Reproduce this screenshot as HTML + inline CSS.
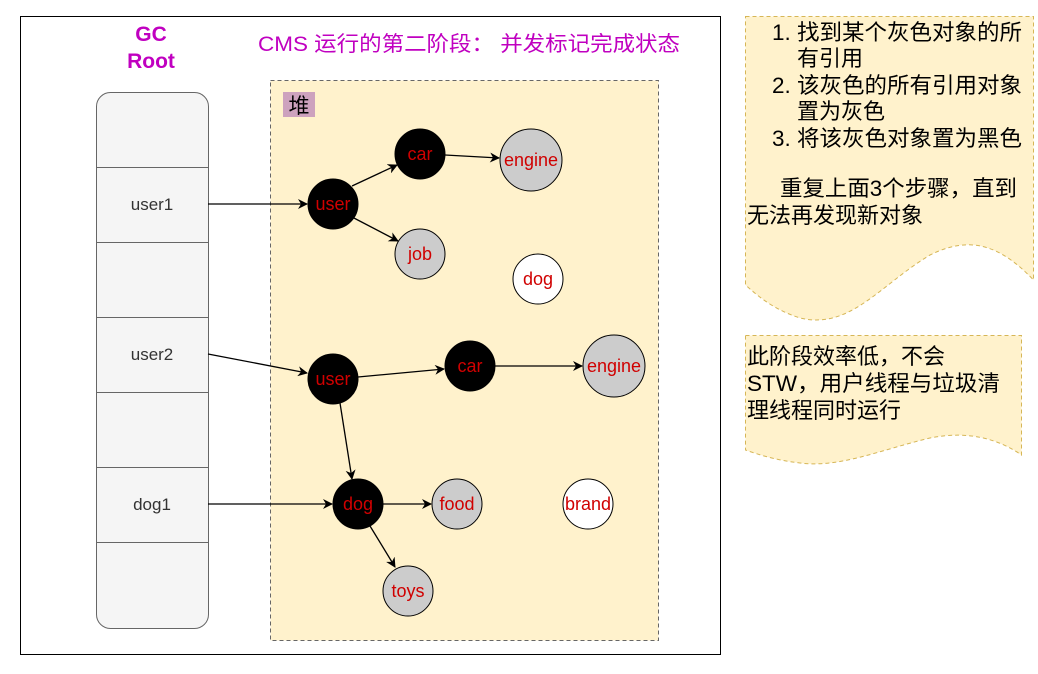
<!DOCTYPE html>
<html><head><meta charset="utf-8"><style>
body{margin:0;background:#fff;width:1038px;height:669px;overflow:hidden}
text{font-family:"Liberation Sans","Noto Sans CJK SC",sans-serif}
</style></head><body>
<svg width="1038" height="669" xmlns="http://www.w3.org/2000/svg">
<defs><marker id="a" markerWidth="10" markerHeight="10" refX="9" refY="5" orient="auto" markerUnits="userSpaceOnUse"><path d="M0,0 L10,5 L0,10 L3,5 z" fill="#000"/></marker></defs>
<rect x="20.5" y="16.5" width="700" height="638" fill="#fff" stroke="#000"/>
<text x="151" y="41" font-size="21" font-weight="bold" fill="#c000c0" text-anchor="middle">GC</text>
<text x="151" y="68" font-size="21" font-weight="bold" fill="#c000c0" text-anchor="middle">Root</text>
<text x="258" y="51" font-size="21" fill="#c000c0" textLength="422" lengthAdjust="spacingAndGlyphs">CMS 运行的第二阶段： 并发标记完成状态</text>
<rect x="96.5" y="92.5" width="112" height="536" rx="14" fill="#f5f5f5" stroke="#666"/>
<g stroke="#666"><line x1="96" y1="167.5" x2="208" y2="167.5"/><line x1="96" y1="242.5" x2="208" y2="242.5"/><line x1="96" y1="317.5" x2="208" y2="317.5"/><line x1="96" y1="392.5" x2="208" y2="392.5"/><line x1="96" y1="467.5" x2="208" y2="467.5"/><line x1="96" y1="542.5" x2="208" y2="542.5"/></g>
<g font-size="17" fill="#333" text-anchor="middle"><text x="152" y="210">user1</text><text x="152" y="360">user2</text><text x="152" y="510">dog1</text></g>
<rect x="270.5" y="80.5" width="388" height="560" fill="#fff2cc" stroke="#666" stroke-dasharray="4,3"/>
<rect x="283" y="92" width="32" height="25" fill="#cda2be"/>
<text x="299" y="113" font-size="21" text-anchor="middle" fill="#000">堆</text>
<g stroke="#000" stroke-width="1.3" marker-end="url(#a)">
<line x1="208" y1="204" x2="307" y2="204"/>
<line x1="208" y1="354" x2="307" y2="373"/>
<line x1="208" y1="504" x2="332" y2="504"/>
<line x1="352" y1="186" x2="397" y2="165"/>
<line x1="352" y1="217" x2="398" y2="241"/>
<line x1="445" y1="155" x2="499" y2="158"/>
<line x1="358" y1="377" x2="444" y2="369"/>
<line x1="495" y1="366" x2="582" y2="366"/>
<line x1="340" y1="403" x2="352" y2="479"/>
<line x1="383" y1="504" x2="431" y2="504"/>
<line x1="370" y1="526" x2="395" y2="567"/>
</g>
<g stroke="#000" stroke-width="1">
<circle cx="333" cy="204" r="25" fill="#000"/>
<circle cx="420" cy="154" r="25" fill="#000"/>
<circle cx="531" cy="160" r="31" fill="#ccc"/>
<circle cx="420" cy="254" r="25" fill="#ccc"/>
<circle cx="538" cy="279" r="25" fill="#fff"/>
<circle cx="333" cy="379" r="25" fill="#000"/>
<circle cx="470" cy="366" r="25" fill="#000"/>
<circle cx="614" cy="366" r="31" fill="#ccc"/>
<circle cx="358" cy="504" r="25" fill="#000"/>
<circle cx="457" cy="504" r="25" fill="#ccc"/>
<circle cx="588" cy="504" r="25" fill="#fff"/>
<circle cx="408" cy="591" r="25" fill="#ccc"/>
</g>
<g font-size="18" fill="#d00000" text-anchor="middle">
<text x="333" y="210">user</text><text x="420" y="160">car</text><text x="531" y="166">engine</text>
<text x="420" y="260">job</text><text x="538" y="285">dog</text>
<text x="333" y="385">user</text><text x="470" y="372">car</text><text x="614" y="372">engine</text>
<text x="358" y="510">dog</text><text x="457" y="510">food</text><text x="588" y="510">brand</text><text x="408" y="597">toys</text>
</g>
<path d="M745.5,16.5 H1033.5 V280 C1000,245 970,235 930,255 C880,285 850,330 800,318 C775,310 760,298 745.5,285 Z" fill="#fff2cc" stroke="#d6b656" stroke-dasharray="4,3"/>
<g font-size="22" fill="#000">
<text x="772" y="40" textLength="250" lengthAdjust="spacingAndGlyphs">1. 找到某个灰色对象的所</text>
<text x="797" y="66">有引用</text>
<text x="772" y="93" textLength="250" lengthAdjust="spacingAndGlyphs">2. 该灰色的所有引用对象</text>
<text x="797" y="119">置为灰色</text>
<text x="772" y="146" textLength="250" lengthAdjust="spacingAndGlyphs">3. 将该灰色对象置为黑色</text>
<text x="780" y="196" textLength="237" lengthAdjust="spacingAndGlyphs">重复上面3个步骤，直到</text>
<text x="747" y="223">无法再发现新对象</text>
</g>
<path d="M745.5,335.5 H1021.5 V455 C1000,440 970,430 930,438 C880,450 840,468 800,463 C775,460 760,455 745.5,450 Z" fill="#fff2cc" stroke="#d6b656" stroke-dasharray="4,3"/>
<g font-size="22" fill="#000">
<text x="747" y="364">此阶段效率低，不会</text>
<text x="747" y="391" textLength="253" lengthAdjust="spacingAndGlyphs">STW，用户线程与垃圾清</text>
<text x="747" y="418">理线程同时运行</text>
</g>
</svg>
</body></html>
